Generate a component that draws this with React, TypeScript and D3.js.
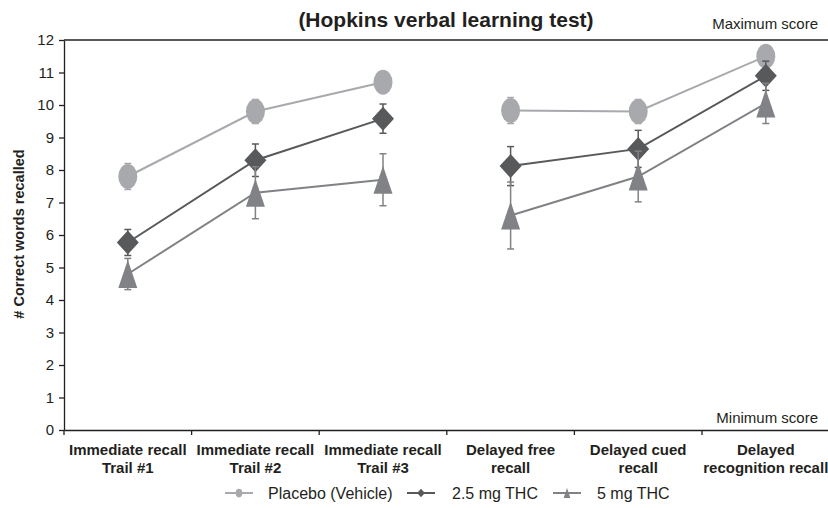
import { useEffect, useRef } from "react";
import * as d3 from "d3";

// Categorías del eje X (dos líneas cada una)
const categorias = [
  "Immediate recall|Trail #1",
  "Immediate recall|Trail #2",
  "Immediate recall|Trail #3",
  "Delayed free|recall",
  "Delayed cued|recall",
  "Delayed|recognition recall",
];

// Valores medios por serie
const placebo = [7.8, 9.8, 10.7, 9.83, 9.8, 11.5];
const thc25 = [5.77, 8.3, 9.58, 8.12, 8.65, 10.9];
const thc5 = [4.8, 7.3, 7.7, 6.6, 7.8, 10.05];

// Errores (SEM)
const placeboErr = [0.4, 0.37, 0.3, 0.4, 0.37, 0.3];
const thc25Err = [0.4, 0.5, 0.45, 0.6, 0.57, 0.45];
const thc5Err = [0.48, 0.8, 0.8, 1.03, 0.78, 0.62];

// Grupos conectados por línea
const grupos = [[0, 1, 2], [3, 4, 5]];

const yTicks = d3.range(0, 13);

const series = [
  { nombre: "Placebo (Vehicle)", valores: placebo, errores: placeboErr, color: "#a7a9ac", forma: "circle" },
  { nombre: "2.5 mg THC", valores: thc25, errores: thc25Err, color: "#58595b", forma: "diamond" },
  { nombre: "5 mg THC", valores: thc5, errores: thc5Err, color: "#808285", forma: "triangle" },
];

const App = () => {
  const ref = useRef<SVGSVGElement | null>(null);

  useEffect(() => {
    if (!ref.current) return;
    const svg = d3.select(ref.current);
    svg.selectAll("*").remove();

    const ink = "#231f20";
    const font = "'Liberation Sans', Arial, sans-serif";

    const x = d3.scaleBand().domain(categorias).range([64, 829.6]).padding(0);
    const y = d3.scaleLinear().domain([0, 12]).range([430, 40]);
    const cx = (i: number) => (x(categorias[i]) as number) + x.bandwidth() / 2;

    // Título
    svg.append("text")
      .attr("x", 446)
      .attr("y", 27)
      .attr("text-anchor", "middle")
      .style("font-family", font)
      .style("font-size", "21px")
      .style("font-weight", "700")
      .style("fill", ink)
      .text("(Hopkins verbal learning test)");

    svg.append("text")
      .attr("x", 818)
      .attr("y", 29)
      .attr("text-anchor", "end")
      .style("font-family", font)
      .style("font-size", "15px")
      .style("fill", ink)
      .text("Maximum score");

    svg.append("text")
      .attr("x", 818)
      .attr("y", 423)
      .attr("text-anchor", "end")
      .style("font-family", font)
      .style("font-size", "15px")
      .style("fill", ink)
      .text("Minimum score");

    // Línea de puntaje máximo
    svg.append("line")
      .attr("x1", 64).attr("x2", 828)
      .attr("y1", y(12)).attr("y2", y(12))
      .attr("stroke", ink).attr("stroke-width", 1.3);

    // Eje Y
    const yAxis = svg.append("g")
      .attr("transform", "translate(64,0)")
      .call(d3.axisLeft(y).tickValues(yTicks).tickSize(5).tickSizeOuter(0).tickPadding(5));
    yAxis.selectAll("path, line").attr("stroke", ink).attr("stroke-width", 1.3);
    yAxis.selectAll("text")
      .style("font-family", font)
      .style("font-size", "15px")
      .style("fill", ink);

    // Eje X
    const xAxis = svg.append("g")
      .attr("transform", "translate(0,430)")
      .call(d3.axisBottom(x).tickSize(0).tickSizeOuter(0).tickFormat(() => ""));
    xAxis.selectAll("path").attr("stroke", ink).attr("stroke-width", 1.3);
    xAxis.selectAll("text").remove();

    const limites = categorias.map((c) => x(c) as number);
    svg.append("g")
      .selectAll("line")
      .data(limites)
      .enter()
      .append("line")
      .attr("x1", (d) => d).attr("x2", (d) => d)
      .attr("y1", 430).attr("y2", 435)
      .attr("stroke", ink).attr("stroke-width", 1.3);

    // Etiquetas del eje X
    categorias.forEach((c, i) => {
      const t = svg.append("text")
        .attr("text-anchor", "middle")
        .style("font-family", font)
        .style("font-size", "15px")
        .style("font-weight", "700")
        .style("fill", ink);
      c.split("|").forEach((linea, k) => {
        t.append("tspan").attr("x", cx(i)).attr("y", 455 + k * 18).text(linea);
      });
    });

    // Título eje Y
    svg.append("text")
      .attr("transform", "translate(24,234) rotate(-90)")
      .attr("text-anchor", "middle")
      .style("font-family", font)
      .style("font-size", "14.5px")
      .style("font-weight", "700")
      .style("fill", ink)
      .text("# Correct words recalled");

    const dibujarMarca = (g: any, forma: string, px: number, py: number, color: string, escala = 1) => {
      if (forma === "circle") {
        g.append("ellipse")
          .attr("cx", px).attr("cy", py)
          .attr("rx", 9.5 * escala).attr("ry", 12.5 * escala)
          .attr("fill", color);
      } else if (forma === "diamond") {
        const w = 11 * escala, h = 12 * escala;
        g.append("path")
          .attr("d", `M${px},${py - h}L${px + w},${py}L${px},${py + h}L${px - w},${py}Z`)
          .attr("fill", color);
      } else {
        const w = 9.5 * escala, h = 14 * escala;
        g.append("path")
          .attr("d", `M${px},${py - h}L${px + w},${py + h}L${px - w},${py + h}Z`)
          .attr("fill", color);
      }
    };

    series.forEach((s) => {
      const g = svg.append("g");
      const gen = d3.line<number>().x((i) => cx(i)).y((i) => y(s.valores[i]));
      grupos.forEach((grp) => {
        g.append("path")
          .attr("d", gen(grp) as string)
          .attr("fill", "none")
          .attr("stroke", s.color)
          .attr("stroke-width", 2);
      });
      // Barras de error
      s.valores.forEach((v, i) => {
        const e = s.errores[i];
        const px = cx(i);
        g.append("line")
          .attr("x1", px).attr("x2", px)
          .attr("y1", y(v + e)).attr("y2", y(v - e))
          .attr("stroke", s.color).attr("stroke-width", 1.5);
        [v + e, v - e].forEach((val) => {
          g.append("line")
            .attr("x1", px - 3.5).attr("x2", px + 3.5)
            .attr("y1", y(val)).attr("y2", y(val))
            .attr("stroke", s.color).attr("stroke-width", 1.5);
        });
      });
      s.valores.forEach((v, i) => dibujarMarca(g, s.forma, cx(i), y(v), s.color));
    });

    // Leyenda
    const leyenda = [
      { x1: 225, tx: 268 },
      { x1: 407, tx: 452 },
      { x1: 553, tx: 597 },
    ];
    series.forEach((s, i) => {
      const l = leyenda[i];
      const g = svg.append("g");
      g.append("line")
        .attr("x1", l.x1).attr("x2", l.x1 + 28)
        .attr("y1", 493).attr("y2", 493)
        .attr("stroke", s.color).attr("stroke-width", 2);
      dibujarMarca(g, s.forma, l.x1 + 14, 493, s.color, 0.35);
      g.append("text")
        .attr("x", l.tx).attr("y", 499)
        .style("font-family", font)
        .style("font-size", "16px")
        .style("fill", ink)
        .text(s.nombre);
    });
  }, []);

  return (
    <svg
      ref={ref}
      width={828}
      height={508}
      style={{ position: "absolute", left: 0, top: 0, background: "#fff" }}
    />
  );
};

export default App;
